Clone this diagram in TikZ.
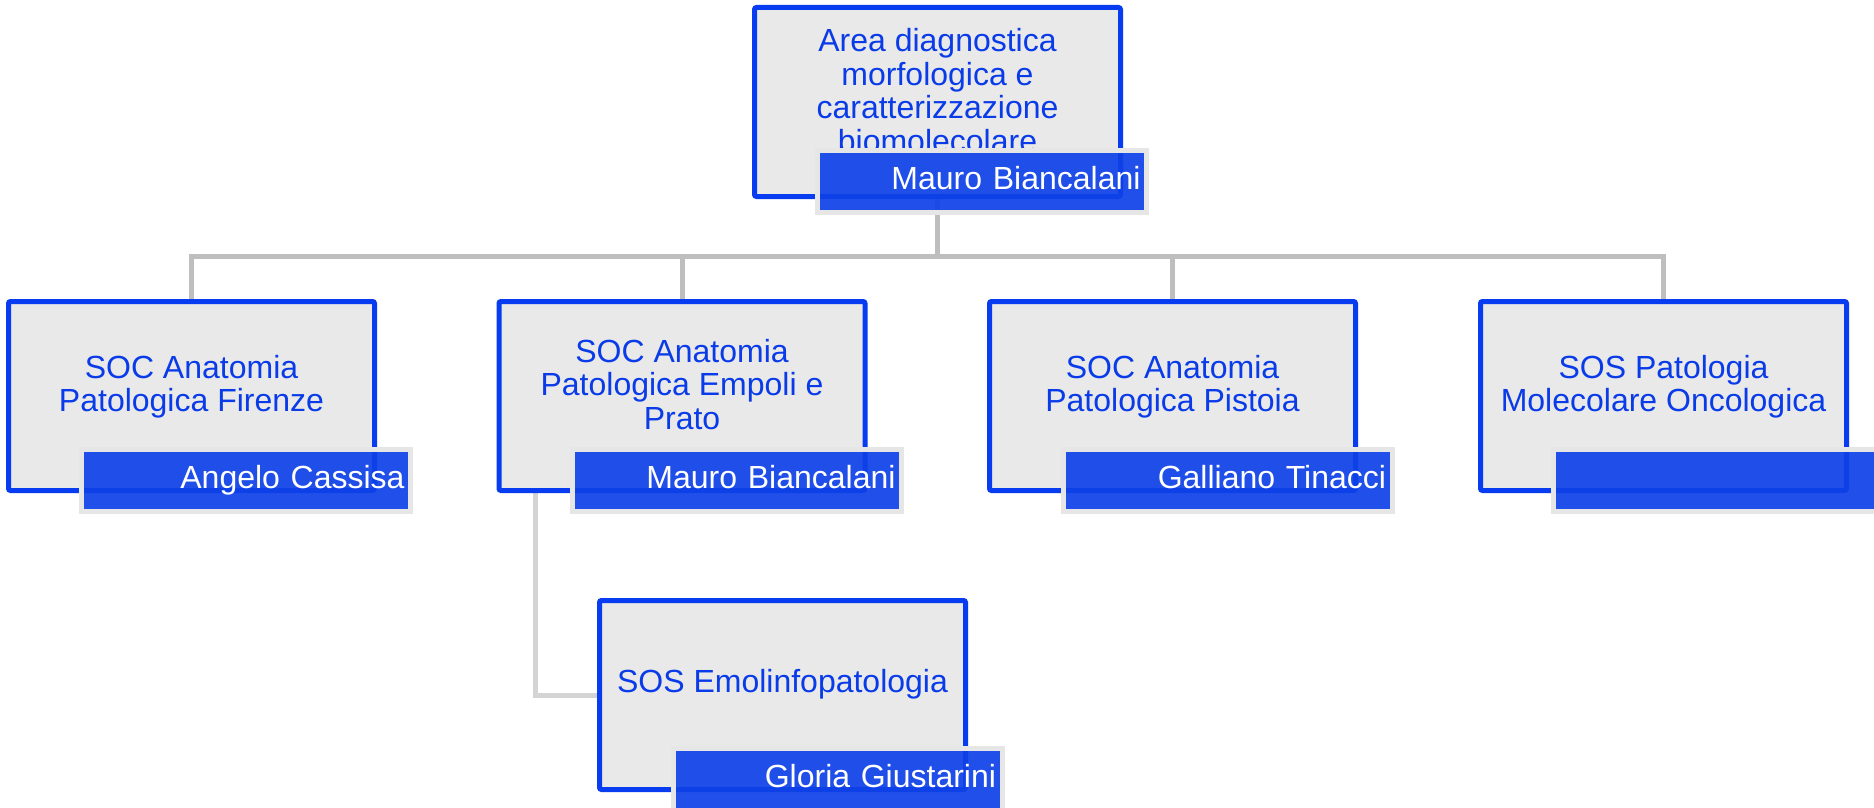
\documentclass[tikz,border=0pt]{standalone}
\usepackage{fontspec}
\setmainfont{Liberation Sans}
\usetikzlibrary{backgrounds}
\definecolor{boxblue}{RGB}{8,60,240}
\definecolor{txtblue}{RGB}{10,59,232}
\definecolor{barblue}{RGB}{15,65,232}
\definecolor{boxgrey}{RGB}{233,233,233}
\definecolor{bargrey}{RGB}{230,230,230}
\definecolor{linegrey}{RGB}{190,190,190}
\definecolor{linegreylight}{RGB}{212,212,212}
\tikzset{
 unitbox/.style={draw=boxblue, fill=boxgrey, line width=5pt, rounded corners=2pt,
   minimum width=366pt, minimum height=189pt, inner sep=0pt},
 unittext/.style={text=txtblue, align=center, font=\fontsize{32}{33.5}\selectfont, inner sep=0pt},
 namebar/.style={draw=bargrey, fill=barblue, fill opacity=0.92, text opacity=1, line width=5pt,
   minimum height=62pt, text width=317pt, inner xsep=6pt, inner ysep=0pt,
   align=right, text=white, font=\fontsize{32}{33}\selectfont, text height=23pt, text depth=7pt},
 conn/.style={draw=linegrey, line width=5pt},
 connlight/.style={draw=linegreylight, line width=5pt},
}
\begin{document}
\begin{tikzpicture}[x=1pt,y=-1pt]
\useasboundingbox (0,0) rectangle (1874,808);
% boxes
\node[unitbox] (b0) at (937.5,102) {};
\node[unitbox] (b1) at (191.5,396) {};
\node[unitbox] (b2) at (682,396) {};
\node[unitbox] (b3) at (1172.5,396) {};
\node[unitbox] (b4) at (1663.5,396) {};
\node[unitbox] (b5) at (782.5,695) {};
% texts
\node[unittext] (t0) at (937.5,90.5) {Area diagnostica\\morfologica e\\caratterizzazione\\biomolecolare};
\node[unittext] (t1) at (191.5,386.5) {SOC Anatomia\\Patologica Firenze};
\node[unittext] (t2) at (682,384.5) {SOC Anatomia\\Patologica Empoli e\\Prato};
\node[unittext] (t3) at (1172.5,386.5) {SOC Anatomia\\Patologica Pistoia};
\node[unittext] (t4) at (1663.5,386.5) {SOS Patologia\\Molecolare Oncologica};
\node[unittext] (t5) at (782.5,684) {SOS Emolinfopatologia};
% name bars
\node[namebar] (n0) at (982,181.5) {Mauro Biancalani};
\node[namebar] (n1) at (246,480) {Angelo Cassisa};
\node[namebar] (n2) at (737,480) {Mauro Biancalani};
\node[namebar] (n3) at (1227.5,480) {Galliano Tinacci};
\node[namebar] (n4) at (1718,480) {};
\node[namebar] (n5) at (837.5,779) {Gloria Giustarini};
% connectors
\begin{pgfonlayer}{background}
\fill[white] (0,0) rectangle (1874,808);
\coordinate (hub) at (937.5,256);
\draw[conn] (b0.south) -- (hub);
\draw[conn] (hub) -| (b1.north);
\draw[conn] (hub) -| (b2.north);
\draw[conn] (hub) -| (b3.north);
\draw[conn] (hub) -| (b4.north);
\draw[connlight] ([xshift=38.5pt]b2.south west) |- (b5.west);
\end{pgfonlayer}
\end{tikzpicture}
\end{document}
